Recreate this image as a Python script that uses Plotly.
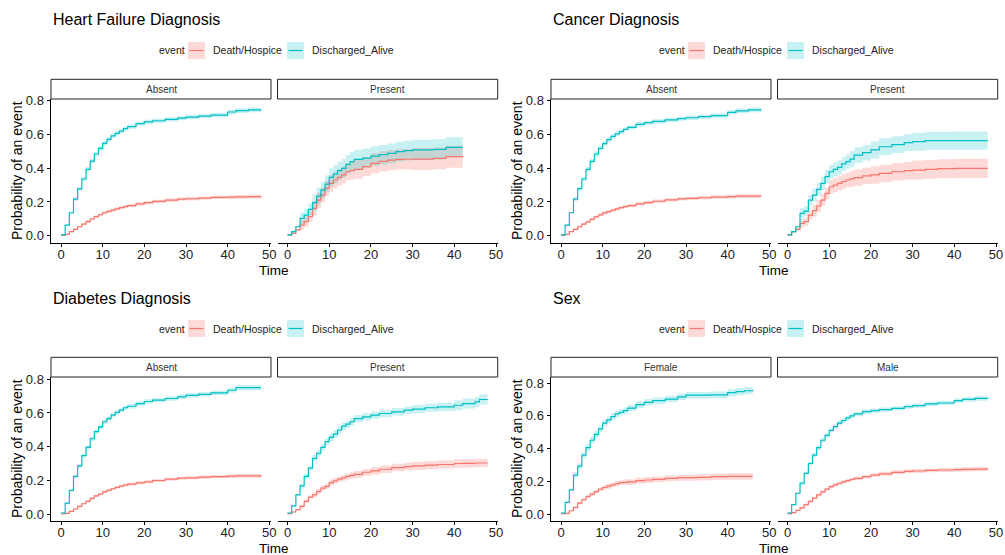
import numpy as np
import plotly.graph_objects as go

W, H = 1005, 555
FONT = "Liberation Sans, Arial, Helvetica, sans-serif"
RED, CYAN = "#F8766D", "#00BFC4"
RED_FILL, CYAN_FILL = "rgba(248,118,109,0.27)", "rgba(0,191,196,0.22)"

# ---------------- data ----------------
panel_titles = ["Heart Failure Diagnosis", "Cancer Diagnosis", "Diabetes Diagnosis", "Sex"]
facet_labels = [["Absent", "Present"], ["Absent", "Present"], ["Absent", "Present"], ["Female", "Male"]]
events = ["Death/Hospice", "Discharged_Alive"]
x_ticks = [0, 10, 20, 30, 40, 50]
y_ticks = [0.0, 0.2, 0.4, 0.6, 0.8]
y_ticktext = ["0.0", "0.2", "0.4", "0.6", "0.8"]

t_std = [0, 1, 2, 3, 4, 5, 6, 7, 8, 9, 10, 11, 12, 13, 14, 15, 16, 18, 20, 22, 25, 28, 30, 33, 36, 40, 42, 45, 48]
t_hf_present = [0, 1, 2, 3, 4, 5, 6, 7, 8, 9, 10, 11, 12, 13, 14, 15, 16, 18, 20, 22, 24, 26, 28, 30, 35, 38, 42]
t_diab_present = [0, 1, 2, 3, 4, 5, 6, 7, 8, 9, 10, 11, 12, 13, 14, 15, 16, 18, 20, 22, 25, 28, 30, 33, 36, 40, 42, 45, 46, 48]
t_female = [0, 1, 2, 3, 4, 5, 6, 7, 8, 9, 10, 11, 12, 13, 14, 15, 16, 18, 20, 22, 25, 28, 30, 33, 36, 40, 42, 44, 46]

hf_absent_death = [0.002, 0.008, 0.024, 0.037, 0.053, 0.069, 0.083, 0.099, 0.113, 0.124, 0.136, 0.144, 0.152, 0.159, 0.166, 0.172, 0.178, 0.188, 0.196, 0.203, 0.211, 0.217, 0.219, 0.223, 0.227, 0.229, 0.230, 0.231, 0.235]
hf_absent_disch = [0.005, 0.063, 0.136, 0.217, 0.277, 0.336, 0.393, 0.442, 0.484, 0.517, 0.547, 0.571, 0.591, 0.606, 0.620, 0.634, 0.646, 0.664, 0.674, 0.681, 0.689, 0.697, 0.703, 0.709, 0.715, 0.733, 0.741, 0.745, 0.749]
hf_present_death = [0.004, 0.014, 0.034, 0.063, 0.083, 0.113, 0.162, 0.211, 0.241, 0.280, 0.310, 0.330, 0.346, 0.360, 0.379, 0.386, 0.393, 0.409, 0.429, 0.440, 0.448, 0.452, 0.453, 0.454, 0.458, 0.468, 0.474]
hf_present_disch = [0.005, 0.024, 0.053, 0.103, 0.122, 0.156, 0.196, 0.235, 0.270, 0.306, 0.346, 0.365, 0.385, 0.399, 0.423, 0.439, 0.452, 0.460, 0.472, 0.480, 0.488, 0.498, 0.504, 0.508, 0.512, 0.523, 0.523]

ca_absent_death = [0.002, 0.008, 0.024, 0.037, 0.053, 0.068, 0.082, 0.097, 0.111, 0.123, 0.135, 0.143, 0.151, 0.159, 0.166, 0.172, 0.178, 0.189, 0.196, 0.204, 0.212, 0.218, 0.221, 0.225, 0.229, 0.232, 0.234, 0.235, 0.237]
ca_absent_disch = [0.005, 0.063, 0.136, 0.217, 0.279, 0.336, 0.393, 0.440, 0.484, 0.517, 0.545, 0.569, 0.589, 0.603, 0.617, 0.630, 0.642, 0.660, 0.670, 0.677, 0.686, 0.694, 0.699, 0.705, 0.712, 0.731, 0.740, 0.745, 0.749]
ca_present_death = [0.004, 0.024, 0.037, 0.073, 0.083, 0.122, 0.148, 0.176, 0.211, 0.251, 0.290, 0.300, 0.310, 0.320, 0.330, 0.337, 0.344, 0.354, 0.360, 0.369, 0.379, 0.385, 0.389, 0.393, 0.397, 0.399, 0.399, 0.399, 0.399]
ca_present_disch = [0.005, 0.024, 0.053, 0.132, 0.146, 0.211, 0.241, 0.275, 0.310, 0.350, 0.379, 0.393, 0.405, 0.425, 0.439, 0.454, 0.478, 0.492, 0.508, 0.527, 0.540, 0.551, 0.557, 0.563, 0.563, 0.563, 0.563, 0.563, 0.563]

di_absent_death = [0.002, 0.004, 0.016, 0.030, 0.045, 0.061, 0.075, 0.093, 0.108, 0.118, 0.132, 0.141, 0.150, 0.158, 0.166, 0.172, 0.177, 0.185, 0.191, 0.199, 0.207, 0.213, 0.215, 0.219, 0.222, 0.225, 0.226, 0.227, 0.231]
di_absent_disch = [0.006, 0.065, 0.140, 0.223, 0.286, 0.347, 0.396, 0.447, 0.489, 0.518, 0.548, 0.567, 0.587, 0.603, 0.617, 0.631, 0.640, 0.656, 0.668, 0.676, 0.686, 0.696, 0.705, 0.711, 0.719, 0.735, 0.751, 0.751, 0.751]
di_present_death = [0.002, 0.012, 0.026, 0.045, 0.075, 0.100, 0.114, 0.134, 0.154, 0.164, 0.187, 0.197, 0.207, 0.215, 0.223, 0.230, 0.236, 0.248, 0.256, 0.266, 0.276, 0.282, 0.286, 0.290, 0.294, 0.300, 0.301, 0.303, 0.303, 0.303]
di_present_disch = [0.006, 0.049, 0.114, 0.167, 0.223, 0.272, 0.331, 0.361, 0.396, 0.430, 0.455, 0.475, 0.499, 0.522, 0.534, 0.548, 0.566, 0.577, 0.587, 0.597, 0.607, 0.617, 0.623, 0.631, 0.636, 0.646, 0.656, 0.666, 0.680, 0.680]

sx_female_death = [0.002, 0.004, 0.020, 0.040, 0.067, 0.087, 0.107, 0.121, 0.137, 0.152, 0.162, 0.170, 0.178, 0.185, 0.192, 0.194, 0.196, 0.204, 0.208, 0.212, 0.218, 0.222, 0.222, 0.224, 0.228, 0.230, 0.230, 0.230, 0.230]
sx_female_disch = [0.006, 0.071, 0.147, 0.238, 0.293, 0.360, 0.406, 0.451, 0.487, 0.521, 0.556, 0.576, 0.596, 0.612, 0.622, 0.632, 0.648, 0.669, 0.683, 0.693, 0.703, 0.717, 0.727, 0.727, 0.729, 0.743, 0.749, 0.754, 0.758]
sx_male_death = [0.002, 0.008, 0.022, 0.038, 0.057, 0.077, 0.097, 0.117, 0.135, 0.152, 0.168, 0.178, 0.188, 0.196, 0.204, 0.211, 0.218, 0.228, 0.238, 0.246, 0.255, 0.261, 0.263, 0.267, 0.269, 0.271, 0.273, 0.275, 0.279]
sx_male_disch = [0.006, 0.057, 0.127, 0.188, 0.248, 0.309, 0.360, 0.406, 0.451, 0.481, 0.511, 0.535, 0.556, 0.572, 0.588, 0.600, 0.612, 0.626, 0.632, 0.638, 0.646, 0.657, 0.663, 0.673, 0.679, 0.693, 0.701, 0.707, 0.709]

# confidence-band half widths, read at these times (held until next time)
ci_times = [0, 3, 6, 10, 15, 20, 30, 40]
hf_absent_death_hw = [0.003, 0.006, 0.008, 0.009, 0.010, 0.010, 0.010, 0.011]
hf_absent_disch_hw = [0.005, 0.012, 0.014, 0.014, 0.013, 0.013, 0.013, 0.014]
hf_present_death_hw = [0.005, 0.030, 0.045, 0.050, 0.055, 0.060, 0.065, 0.070]
hf_present_disch_hw = [0.005, 0.035, 0.050, 0.055, 0.057, 0.058, 0.060, 0.064]
ca_absent_death_hw = [0.003, 0.006, 0.008, 0.009, 0.010, 0.010, 0.010, 0.011]
ca_absent_disch_hw = [0.005, 0.012, 0.014, 0.014, 0.013, 0.013, 0.013, 0.014]
ca_present_death_hw = [0.005, 0.025, 0.035, 0.042, 0.048, 0.052, 0.056, 0.057]
ca_present_disch_hw = [0.005, 0.030, 0.038, 0.042, 0.046, 0.050, 0.053, 0.054]
di_absent_death_hw = [0.003, 0.005, 0.007, 0.008, 0.009, 0.009, 0.010, 0.011]
di_absent_disch_hw = [0.005, 0.012, 0.013, 0.013, 0.013, 0.013, 0.013, 0.014]
di_present_death_hw = [0.003, 0.010, 0.015, 0.018, 0.020, 0.022, 0.024, 0.025]
di_present_disch_hw = [0.005, 0.015, 0.020, 0.022, 0.022, 0.022, 0.024, 0.030]
sx_female_death_hw = [0.003, 0.008, 0.012, 0.015, 0.017, 0.018, 0.019, 0.020]
sx_female_disch_hw = [0.005, 0.017, 0.020, 0.020, 0.020, 0.020, 0.020, 0.022]
sx_male_death_hw = [0.003, 0.007, 0.009, 0.010, 0.011, 0.012, 0.012, 0.013]
sx_male_disch_hw = [0.005, 0.012, 0.014, 0.014, 0.014, 0.013, 0.013, 0.014]

facets = [
    (t_std, hf_absent_death, hf_absent_death_hw, hf_absent_disch, hf_absent_disch_hw),
    (t_hf_present, hf_present_death, hf_present_death_hw, hf_present_disch, hf_present_disch_hw),
    (t_std, ca_absent_death, ca_absent_death_hw, ca_absent_disch, ca_absent_disch_hw),
    (t_std, ca_present_death, ca_present_death_hw, ca_present_disch, ca_present_disch_hw),
    (t_std, di_absent_death, di_absent_death_hw, di_absent_disch, di_absent_disch_hw),
    (t_diab_present, di_present_death, di_present_death_hw, di_present_disch, di_present_disch_hw),
    (t_female, sx_female_death, sx_female_death_hw, sx_female_disch, sx_female_disch_hw),
    (t_std, sx_male_death, sx_male_death_hw, sx_male_disch, sx_male_disch_hw),
]

# ---------------- layout geometry (pixels) ----------------
def px(x):
    return x / W

def py(y):
    return 1 - y / H

col_off = [0, 500]
row_off = [0, 278]
facet_x = [(51, 271), (277.5, 497.7)]
panel_y = (99, 242.7)
strip_y = (79.3, 99)
y_ranges = [[-0.0415, 0.810], [-0.0415, 0.810], [-0.0396, 0.8136], [-0.041, 0.838]]
x_range = [-2.4, 50.4]


def hold(times, knots, vals):
    idx = np.searchsorted(np.array(knots), np.array(times), side="right") - 1
    return np.array(vals)[idx]


fig = go.Figure()
layout = dict(width=W, height=H, margin=dict(l=0, r=0, t=0, b=0, autoexpand=False),
              paper_bgcolor="white", plot_bgcolor="white", showlegend=False,
              font=dict(family=FONT, color="#222"))
shapes, annotations = [], []

for p in range(4):
    r, c = divmod(p, 2)
    xo, yo = col_off[c], row_off[r]
    for f in range(2):
        k = p * 2 + f
        ax = k + 1
        xs = "" if ax == 1 else str(ax)
        t, d, dhw, a, ahw = facets[k]
        t = np.array(t, dtype=float)
        for est, hw, fillc in [(d, dhw, RED_FILL), (a, ahw, CYAN_FILL)]:
            est = np.array(est)
            h = hold(t, ci_times, hw)
            fig.add_trace(go.Scatter(x=t, y=est - h, mode="lines", line=dict(width=0, shape="hv"),
                                     xaxis="x" + xs, yaxis="y" + xs, hoverinfo="skip"))
            fig.add_trace(go.Scatter(x=t, y=est + h, mode="lines", line=dict(width=0, shape="hv"),
                                     fill="tonexty", fillcolor=fillc,
                                     xaxis="x" + xs, yaxis="y" + xs, hoverinfo="skip"))
        for est, col, name in [(d, RED, events[0]), (a, CYAN, events[1])]:
            fig.add_trace(go.Scatter(x=t, y=est, mode="lines", name=name,
                                     line=dict(color=col, width=1.2, shape="hv"),
                                     xaxis="x" + xs, yaxis="y" + xs))
        x0, x1 = facet_x[f][0] + xo, facet_x[f][1] + xo
        y0, y1 = panel_y[0] + yo, panel_y[1] + yo
        layout["xaxis" + xs] = dict(domain=[px(x0), px(x1)], range=x_range, anchor="y" + xs,
                                    showline=True, linecolor="black", linewidth=1,
                                    ticks="outside", ticklen=3, tickcolor="black", tickwidth=1,
                                    tickvals=x_ticks, showgrid=False, zeroline=False,
                                    ticklabelstandoff=-3,
                                    tickfont=dict(size=13, color="#222"))
        ydict = dict(domain=[py(y1), py(y0)], range=y_ranges[p], anchor="x" + xs,
                     showgrid=False, zeroline=False)
        if f == 0:
            ydict.update(showline=True, linecolor="black", linewidth=1, ticks="outside",
                         ticklen=3.5, tickcolor="black", tickwidth=1, tickvals=y_ticks,
                         ticktext=y_ticktext, tickfont=dict(size=13, color="#222"))
        else:
            ydict.update(visible=False)
        layout["yaxis" + xs] = ydict
        # strip
        shapes.append(dict(type="rect", xref="paper", yref="paper",
                           x0=px(x0), x1=px(x1), y0=py(strip_y[1] + yo), y1=py(strip_y[0] + yo),
                           line=dict(color="#222", width=1), fillcolor="white"))
        annotations.append(dict(text=facet_labels[p][f], xref="paper", yref="paper",
                                x=px((x0 + x1) / 2), y=py((strip_y[0] + strip_y[1]) / 2 + yo),
                                showarrow=False, xanchor="center", yanchor="middle",
                                font=dict(size=10, color="#333")))
    # panel title
    annotations.append(dict(text=panel_titles[p], xref="paper", yref="paper",
                            x=px(51 + xo), y=py(20 + yo), xanchor="left", yanchor="middle",
                            showarrow=False, font=dict(size=16, color="black")))
    # axis titles
    annotations.append(dict(text="Time", xref="paper", yref="paper",
                            x=px(274 + xo), y=py(270 + yo), xanchor="center", yanchor="middle",
                            showarrow=False, font=dict(size=13.5, color="black")))
    annotations.append(dict(text="Probability of an event", xref="paper", yref="paper",
                            x=px(17 + xo), y=py(171 + yo), xanchor="center", yanchor="middle",
                            textangle=-90, showarrow=False, font=dict(size=14, color="black")))
    # legend
    ly = 50.5 + yo
    annotations.append(dict(text="event", xref="paper", yref="paper", x=px(157 + xo), y=py(ly),
                            xanchor="left", yanchor="middle", showarrow=False,
                            font=dict(size=10.5, color="#222")))
    for sx, txt_x, col, fillc, name in [(188, 211, RED, RED_FILL, events[0]),
                                         (287, 310, CYAN, CYAN_FILL, events[1])]:
        shapes.append(dict(type="rect", xref="paper", yref="paper",
                           x0=px(sx + xo), x1=px(sx + 17 + xo), y0=py(ly + 8.5), y1=py(ly - 8.5),
                           line=dict(width=0), fillcolor=fillc))
        shapes.append(dict(type="line", xref="paper", yref="paper",
                           x0=px(sx + 1.5 + xo), x1=px(sx + 15.5 + xo), y0=py(ly), y1=py(ly),
                           line=dict(color=col, width=1.2)))
        annotations.append(dict(text=name, xref="paper", yref="paper", x=px(txt_x + xo), y=py(ly),
                                xanchor="left", yanchor="middle", showarrow=False,
                                font=dict(size=10.5, color="#222")))

layout["shapes"] = shapes
layout["annotations"] = annotations
fig.update_layout(**layout)
fig.write_html("out.html", config={"displayModeBar": False},
               post_script="document.body.style.margin='0';document.body.style.overflow='hidden';")
